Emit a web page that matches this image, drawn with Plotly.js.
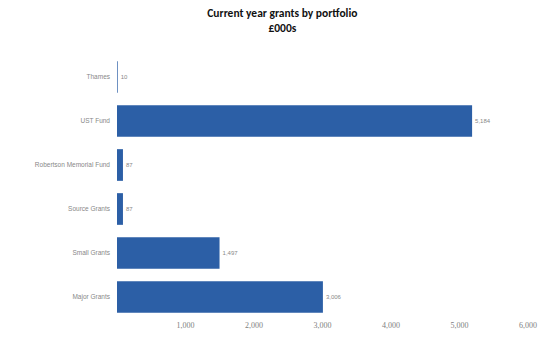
<!DOCTYPE html>
<html>
<head>
<meta charset="utf-8">
<script src="https://cdn.plot.ly/plotly-3.0.1.min.js"></script>
<style>html,body{margin:0;padding:0;background:#fff;}#chart{width:543px;height:340px;}</style>
</head>
<body>
<div id="chart"></div>
<script>
const categories = ["Thames", "UST Fund", "Robertson Memorial Fund", "Source Grants", "Small Grants", "Major Grants"];
const values = [10, 5184, 87, 87, 1497, 3006];
const valueLabels = ["10", "5,184", "87", "87", "1,497", "3,006"];
const tickVals = [0, 1000, 2000, 3000, 4000, 5000, 6000];
const tickText = ["", "1,000", "2,000", "3,000", "4,000", "5,000", "6,000"];

const trace = {
  type: 'bar',
  orientation: 'h',
  x: values,
  y: categories,
  text: valueLabels,
  textposition: 'outside',
  cliponaxis: false,
  textfont: {family: 'Liberation Sans, Arial', size: 6, color: '#888'},
  marker: {color: '#2c5fa6'},
  hoverinfo: 'none'
};

const layout = {
  width: 543, height: 340,
  margin: {l: 117, r: 15, t: 55, b: 21},
  paper_bgcolor: '#fff', plot_bgcolor: '#fff',
  showlegend: false,
  bargap: 0.28,
  title: {
    text: '<b>Current year grants by portfolio<br>£000s</b>',
    x: 0.52, xanchor: 'center', xref: 'container',
    y: 0.95, yanchor: 'middle', yref: 'container',
    font: {family: 'Carlito, Liberation Sans, Arial', size: 11.5, color: '#111'}
  },
  xaxis: {
    range: [0, 6000],
    tickvals: tickVals, ticktext: tickText,
    showgrid: false, zeroline: false, showline: false,
    ticks: '',
    tickfont: {family: 'Liberation Serif, serif', size: 8, color: '#808080'}
  },
  yaxis: {
    autorange: 'reversed',
    showgrid: false, zeroline: false, showline: false,
    ticks: '', ticklen: 0, ticklabelstandoff: 6,
    tickfont: {family: 'Liberation Sans, Arial', size: 6.5, color: '#888'}
  }
};

Plotly.newPlot('chart', [trace], layout, {displayModeBar: false, staticPlot: true});
</script>
</body>
</html>
